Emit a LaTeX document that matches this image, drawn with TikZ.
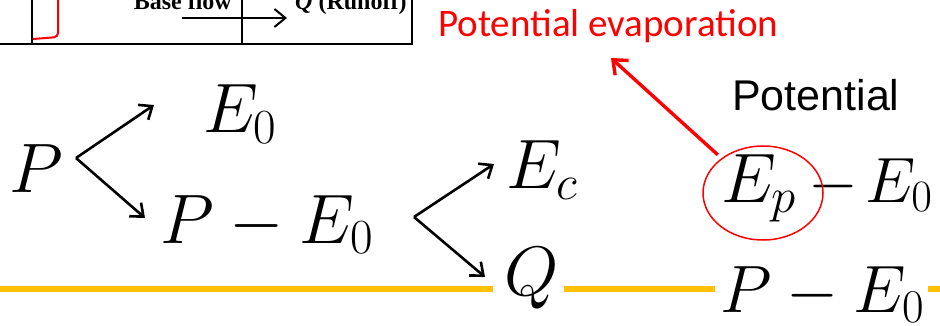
\documentclass[tikz,border=0pt]{standalone}
\usepackage{fix-cm}
\usepackage{fontspec}
\usetikzlibrary{positioning,arrows.meta,shapes.geometric}
\newfontfamily\calibrifont{Carlito}
\newfontfamily\arialfont{Liberation Sans}
\newfontfamily\timesfont{Liberation Serif}
\definecolor{GoldBar}{RGB}{255,192,0}
\definecolor{NoteRed}{RGB}{255,0,0}
\tikzset{
  flow/.style={-{Straight Barb[length=11pt,width=18pt]},line width=2.6pt},
  noteflow/.style={-{Straight Barb[length=12pt,width=20pt]},line width=3.4pt,draw=NoteRed},
  term/.style={inner sep=0pt,anchor=base west,font=\fontsize{70}{80}\selectfont},
  bar/.style={draw=GoldBar,line width=6pt},
  frameline/.style={line width=2pt},
  inset/.style={inner sep=0pt,font=\timesfont\bfseries\fontsize{24}{28}\selectfont}
}

\begin{document}
\begin{tikzpicture}[x=1pt,y=-1pt]
  \useasboundingbox (0,0) rectangle (940,326);

  \begin{scope}
    \clip (0,0) rectangle (416,47);
    \draw[frameline] (0,44) -- (412,44) -- (412,-2);
    \draw[frameline] (32,-2) -- (32,44);
    \draw[frameline] (242,-2) -- (242,44);
    \draw[frameline,draw=NoteRed,rounded corners=4pt] (58,-2) -- (58,37) -- (33,39);
    \node[inset,anchor=base east] (baseflow) at (232,10) {Base flow};
    \node[inset,anchor=base west] (runoff) at (295,10) {\textit{Q} (Runoff)};
    \coordinate (bfstart) at (182,18);
    \coordinate (bfend) at (287,18);
    \draw[flow,line width=2pt] (bfstart) -- (bfend);
  \end{scope}

  \node[font=\calibrifont\fontsize{39}{44}\selectfont,text=NoteRed,anchor=base west,inner sep=0pt] (pevap) at (438,37) {Potential evaporation};
  \node[font=\arialfont\fontsize{43}{50}\selectfont,anchor=base west,inner sep=0pt] (pot) at (732,111) {Potential};

  \node[term] (p) at (9,193) {$P$};
  \node[term] (ezero) at (203,133) {$E_0$};
  \node[term] (rest) at (160,243) {$P-E_0$};
  \node[term] (ec) at (506,189) {$E_c$};
  \node[term] (q) at (504,295) {$Q$};
  \node[term] (ep) at (721,202) {$E_p$};
  \node[term,font=\fontsize{64}{72}\selectfont] (epzero) at (808,202) {$-\mkern2mu E_0$};
  \node[term,font=\fontsize{67}{76}\selectfont] (pzero) at (720,312) {$P-E_0$};

  \coordinate (forkp) at (76,158);
  \coordinate (upp) at (154,105);
  \coordinate (downp) at (145,218);
  \draw[flow] (forkp) -- (upp);
  \draw[flow] (forkp) -- (downp);

  \coordinate (forkr) at (414,217);
  \coordinate (upr) at (494,164);
  \coordinate (downr) at (485,277);
  \draw[flow] (forkr) -- (upr);
  \draw[flow] (forkr) -- (downr);

  \node[draw=NoteRed,line width=1.5pt,ellipse,minimum width=120pt,minimum height=94pt,inner sep=0pt] (circ) at (763,193) {};
  \coordinate (notetip) at (611,58);
  \draw[noteflow,shorten <=5pt] (circ.140) -- (notetip);

  \coordinate (barstart) at (0,289);
  \coordinate (barend) at (940,289);
  \draw[bar] (barstart) -- (493,289);
  \draw[bar] (564,289) -- (715,289);
  \draw[bar] (928,289) -- (barend);
\end{tikzpicture}
\end{document}
